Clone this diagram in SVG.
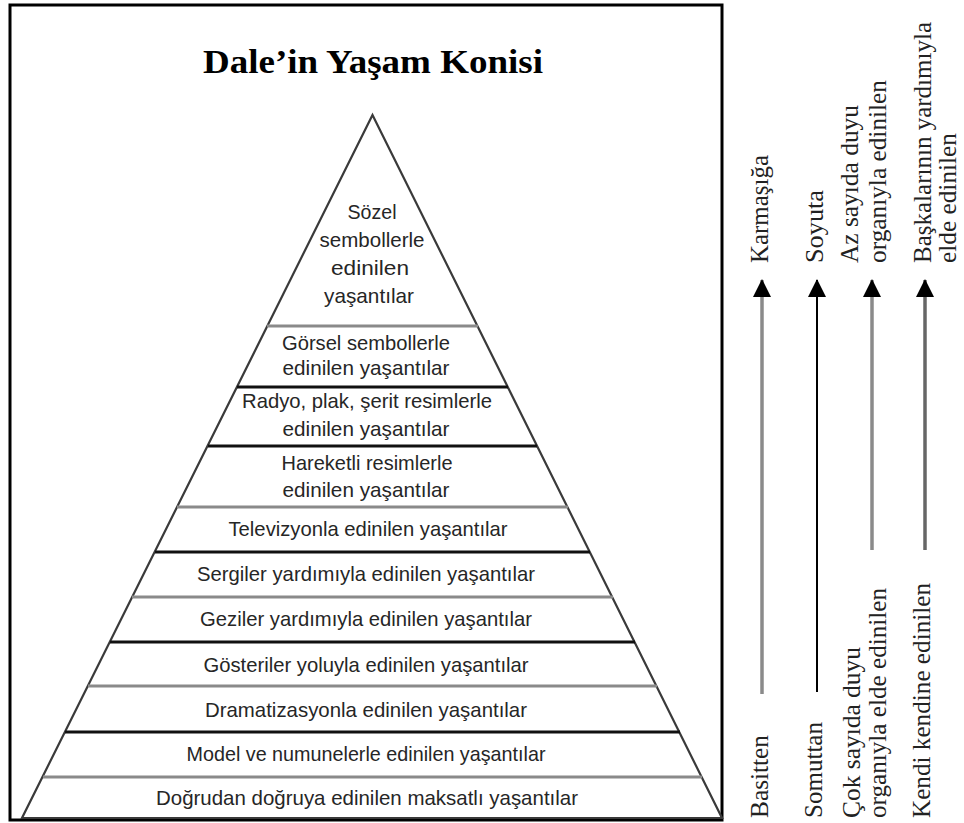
<svg xmlns="http://www.w3.org/2000/svg" width="964" height="823" viewBox="0 0 964 823">
<style>
.frame{fill:none;stroke:#000;stroke-width:3}
.edge{fill:none;stroke:#3a3a3a;stroke-width:2.2}
.lb{stroke:#111;stroke-width:3}
.lg{stroke:#8a8a8a;stroke-width:3}
.t{font-family:"Liberation Sans",Arial,sans-serif;font-size:21px;fill:#262626;text-anchor:middle}
.title{font-family:"Liberation Serif","Times New Roman",serif;font-size:34px;font-weight:bold;fill:#000}
.r{font-family:"Liberation Serif","Times New Roman",serif;font-size:26px;fill:#222}
.ag{stroke:#8a8a8a;stroke-width:3.5}
.ad{stroke:#666;stroke-width:3.5}
.ab{stroke:#000;stroke-width:2}
</style>
<defs>
<marker id="ah" markerUnits="userSpaceOnUse" markerWidth="18" markerHeight="18" viewBox="0 0 18 18" refX="17" refY="9" orient="auto">
<path d="M0,0 L18,9 L0,18 Z" fill="#000"/>
</marker>
</defs>
<rect width="964" height="823" fill="#fff"/>
<rect class="frame" x="10" y="5" width="712" height="815"/>
<text id="title" class="title" x="203" y="73" textLength="340" lengthAdjust="spacingAndGlyphs">Dale’in Yaşam Konisi</text>
<g id="pyramid">
<polygon class="edge" points="372.5,115 722,818 22,818"/>
</g>
<g id="band-sozel">
<text class="t" x="372" y="219" textLength="49" lengthAdjust="spacingAndGlyphs">Sözel</text>
<text class="t" x="372" y="247" textLength="105" lengthAdjust="spacingAndGlyphs">sembollerle</text>
<text class="t" x="370" y="275" textLength="78" lengthAdjust="spacingAndGlyphs">edinilen</text>
<text class="t" x="369" y="303" textLength="90" lengthAdjust="spacingAndGlyphs">yaşantılar</text>
<line class="lg" x1="267" y1="326" x2="478" y2="326"/>
</g>
<g id="band-gorsel">
<text class="t" x="366" y="350" textLength="168" lengthAdjust="spacingAndGlyphs">Görsel sembollerle</text>
<text class="t" x="366" y="375" textLength="167" lengthAdjust="spacingAndGlyphs">edinilen yaşantılar</text>
<line class="lb" x1="237" y1="387" x2="508" y2="387"/>
</g>
<g id="band-radyo">
<text class="t" x="367" y="408" textLength="250" lengthAdjust="spacingAndGlyphs">Radyo, plak, şerit resimlerle</text>
<text class="t" x="366" y="436" textLength="167" lengthAdjust="spacingAndGlyphs">edinilen yaşantılar</text>
<line class="lb" x1="208" y1="446" x2="537" y2="446"/>
</g>
<g id="band-hareketli">
<text class="t" x="367" y="470" textLength="171" lengthAdjust="spacingAndGlyphs">Hareketli resimlerle</text>
<text class="t" x="366" y="497" textLength="167" lengthAdjust="spacingAndGlyphs">edinilen yaşantılar</text>
<line class="lg" x1="177" y1="507" x2="568" y2="507"/>
</g>
<g id="band-televizyon">
<text class="t" x="368" y="536" textLength="279" lengthAdjust="spacingAndGlyphs">Televizyonla edinilen yaşantılar</text>
<line class="lb" x1="155" y1="552" x2="590" y2="552"/>
</g>
<g id="band-sergiler">
<text class="t" x="366" y="581" textLength="338" lengthAdjust="spacingAndGlyphs">Sergiler yardımıyla edinilen yaşantılar</text>
<line class="lg" x1="132" y1="597" x2="613" y2="597"/>
</g>
<g id="band-geziler">
<text class="t" x="366" y="626" textLength="332" lengthAdjust="spacingAndGlyphs">Geziler yardımıyla edinilen yaşantılar</text>
<line class="lb" x1="110" y1="642" x2="635" y2="642"/>
</g>
<g id="band-gosteriler">
<text class="t" x="366" y="672" textLength="325" lengthAdjust="spacingAndGlyphs">Gösteriler yoluyla edinilen yaşantılar</text>
<line class="lg" x1="88" y1="686" x2="657" y2="686"/>
</g>
<g id="band-dramatizasyon">
<text class="t" x="366" y="717" textLength="322" lengthAdjust="spacingAndGlyphs">Dramatizasyonla edinilen yaşantılar</text>
<line class="lb" x1="65" y1="732" x2="680" y2="732"/>
</g>
<g id="band-model">
<text class="t" x="366" y="761" textLength="359" lengthAdjust="spacingAndGlyphs">Model ve numunelerle edinilen yaşantılar</text>
<line class="lg" x1="43" y1="777" x2="702" y2="777"/>
</g>
<g id="band-dogrudan">
<text class="t" x="367" y="805" textLength="422" lengthAdjust="spacingAndGlyphs">Doğrudan doğruya edinilen maksatlı yaşantılar</text>
</g>
<g id="connectors">
<line class="ag" x1="762" y1="694" x2="762" y2="280" marker-end="url(#ah)"/>
<line class="ab" x1="817" y1="692" x2="817" y2="280" marker-end="url(#ah)"/>
<line class="ag" x1="872" y1="550" x2="872" y2="280" marker-end="url(#ah)"/>
<line class="ad" x1="925" y1="550" x2="925" y2="280" marker-end="url(#ah)"/>
</g>
<g id="label-karmasiga"><text class="r" transform="translate(768,263) rotate(-90)" textLength="108" lengthAdjust="spacingAndGlyphs">Karmaşığa</text></g>
<g id="label-basitten"><text class="r" transform="translate(768,818) rotate(-90)" textLength="83" lengthAdjust="spacingAndGlyphs">Basitten</text></g>
<g id="label-soyuta"><text class="r" transform="translate(823,263) rotate(-90)" textLength="73" lengthAdjust="spacingAndGlyphs">Soyuta</text></g>
<g id="label-somuttan"><text class="r" transform="translate(822,818) rotate(-90)" textLength="96" lengthAdjust="spacingAndGlyphs">Somuttan</text></g>
<g id="label-az">
<text class="r" transform="translate(858,263) rotate(-90)" textLength="158" lengthAdjust="spacingAndGlyphs">Az sayıda duyu</text>
<text class="r" transform="translate(886,263) rotate(-90)" textLength="183" lengthAdjust="spacingAndGlyphs">organıyla edinilen</text>
</g>
<g id="label-cok">
<text class="r" transform="translate(860,818) rotate(-90)" textLength="171" lengthAdjust="spacingAndGlyphs">Çok sayıda duyu</text>
<text class="r" transform="translate(886,818) rotate(-90)" textLength="230" lengthAdjust="spacingAndGlyphs">organıyla elde edinilen</text>
</g>
<g id="label-baskalari">
<text class="r" transform="translate(931,263) rotate(-90)" textLength="241" lengthAdjust="spacingAndGlyphs">Başkalarının yardımıyla</text>
<text class="r" transform="translate(956,263) rotate(-90)" textLength="130" lengthAdjust="spacingAndGlyphs">elde edinilen</text>
</g>
<g id="label-kendi"><text class="r" transform="translate(930,818) rotate(-90)" textLength="235" lengthAdjust="spacingAndGlyphs">Kendi kendine edinilen</text></g>
</svg>
